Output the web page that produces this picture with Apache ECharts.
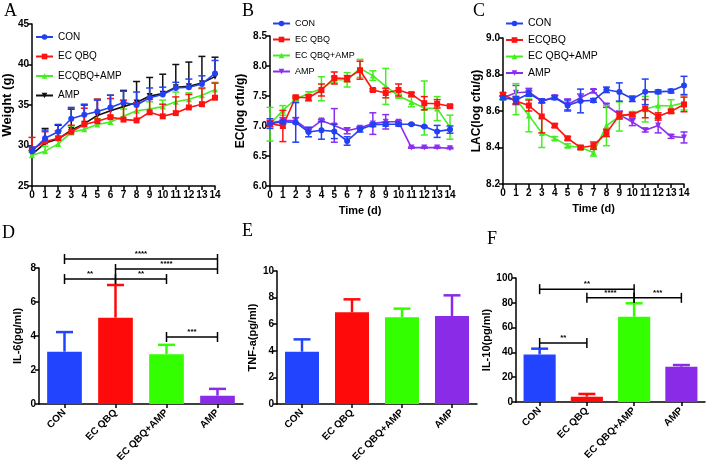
<!DOCTYPE html>
<html><head><meta charset="utf-8">
<script src="https://cdn.jsdelivr.net/npm/echarts@6/dist/echarts.min.js"></script>
<style>html,body{margin:0;padding:0;background:#fff}#c{width:707px;height:467px}</style>
</head><body><div id="c"></div><script>
// ---------- data ----------
const days = [0,1,2,3,4,5,6,7,8,9,10,11,12,13,14];
// A: body weight (g)
const aCon = [29.3,30.9,31.7,33.3,33.8,34.2,34.7,35.3,35.0,35.9,36.3,37.1,37.2,37.6,38.9];
const aConErr = [0.5,1.0,0.9,1.4,1.3,1.4,1.5,1.4,1.6,1.2,0.9,0.7,1.0,1.0,1.6];
const aEc = [29.5,30.5,30.9,31.7,32.6,33.0,33.5,33.2,33.1,34.1,33.6,34.0,34.7,35.1,35.9];
const aEcErr = [1.5,1.2,0.9,0.8,2.0,2.7,2.3,2.4,2.2,1.6,1.5,2.0,1.6,2.0,1.8];
const aMix = [28.8,29.3,30.2,31.6,32.0,32.6,32.9,33.6,34.3,34.5,34.8,35.4,35.7,36.2,36.9];
const aMixErr = [0.4,0.6,0.6,0.8,0.6,0.7,0.8,0.9,0.8,0.9,0.8,1.2,0.8,0.8,0.9];
const aAmp = [28.9,30.3,30.8,31.9,32.7,33.7,34.3,34.8,35.3,36.1,36.4,37.2,37.3,37.7,38.5];
const aAmpErr = [0.5,1.8,1.7,2.6,2.3,2.0,1.9,2.0,2.6,2.3,2.4,2.8,3.0,3.3,2.4];
// B: EC (log cfu/g)
const bCon = [7.04,7.07,7.06,6.90,6.93,6.91,6.75,6.94,7.02,7.03,7.03,7.03,6.99,6.91,6.94];
const bConErr = [0.08,0.03,0.33,0.08,0.15,0.12,0.07,0.04,0.03,0.03,0.03,0.01,0.01,0.1,0.06];
const bEc = [7.04,7.0,7.48,7.47,7.6,7.8,7.79,7.93,7.6,7.55,7.6,7.53,7.38,7.37,7.33];
const bEcErr = [0.05,0.26,0.02,0.05,0.1,0.1,0.05,0.15,0.02,0.08,0.1,0.03,0.11,0.07,0.02];
const bMix = [7.03,7.26,7.45,7.54,7.62,7.77,7.77,7.96,7.84,7.66,7.5,7.4,7.3,7.29,6.98];
const bMixErr = [0.28,0.08,0.03,0.03,0.2,0.05,0.12,0.15,0.08,0.3,0.03,0.08,0.45,0.2,0.2];
const bAmp = [7.05,7.09,7.09,6.93,7.09,7.01,6.92,6.97,7.04,7.07,7.07,6.64,6.64,6.64,6.63];
const bAmpErr = [0.02,0.05,0.05,0.02,0.02,0.28,0.05,0.02,0.18,0.12,0.02,0.01,0.01,0.01,0.01];
// C: LAC (log cfu/g)
const cCon = [8.673,8.66,8.695,8.655,8.673,8.63,8.655,8.658,8.716,8.704,8.667,8.705,8.705,8.709,8.74];
const cConErr = [0.01,0.02,0.015,0.01,0.01,0.03,0.065,0.01,0.015,0.05,0.015,0.07,0.01,0.01,0.05];
const cEc = [8.69,8.655,8.63,8.57,8.52,8.45,8.40,8.41,8.48,8.576,8.58,8.613,8.57,8.598,8.636];
const cEcErr = [0.01,0.02,0.03,0.09,0.01,0.01,0.01,0.02,0.02,0.02,0.01,0.05,0.02,0.01,0.04];
const cMix = [8.673,8.665,8.576,8.48,8.45,8.41,8.40,8.373,8.52,8.57,8.587,8.61,8.63,8.627,8.645];
const cMixErr = [0.01,0.085,0.09,0.08,0.01,0.01,0.01,0.02,0.11,0.08,0.01,0.07,0.07,0.035,0.04];
const cAmp = [8.673,8.70,8.704,8.655,8.676,8.636,8.673,8.709,8.63,8.58,8.54,8.495,8.52,8.46,8.455];
const cAmpErr = [0.01,0.04,0.02,0.01,0.01,0.03,0.02,0.01,0.01,0.02,0.02,0.01,0.04,0.01,0.03];
// D-F: cytokines
const groups = ['CON','EC QBQ','EC QBQ+AMP','AMP'];
const il6 = [3.08,5.08,2.93,0.49];
const il6Err = [1.15,1.92,0.55,0.40];
const tnf = [3.93,6.89,6.52,6.62];
const tnfErr = [0.93,0.98,0.65,1.55];
const il10 = [38.4,4.3,68.8,28.5];
const il10Err = [4.6,2.2,10.8,1.3];
// significance brackets: [from group, to group, level, stars]
const il6Sig = [[0,3,8.53,'****'],[1,3,7.94,'****'],[0,1,7.35,'**'],[1,2,7.35,'**'],[2,3,3.94,'***']];
const il10Sig = [[0,2,91,'**'],[1,2,84,'****'],[2,3,84,'***'],[0,1,47.6,'**']];

// ---------- styles ----------
const BLUE='#2340f2', RED='#ff1212', GREEN='#44ee22', PURPLE='#8a2ef0', BLACK='#111111';
const BAR_COLORS = ['#2244ff','#ff0a0a','#33ff00','#8a2be8'];
const SANS = "Arial,'Liberation Sans',sans-serif";
const INV_TRI = 'path://M0,0 L10,0 L5,9 Z';

function yAx(gi, min, max, interval, name, nameGap, fs, dec){
  return {type:'value', gridIndex:gi, min, max, interval, name, nameLocation:'middle', nameGap, nameRotate:90,
    nameTextStyle:{fontFamily:SANS, fontWeight:'bold', fontSize:fs, color:'#000'},
    axisLine:{show:true, lineStyle:{color:'#000', width:1.5}},
    axisTick:{show:true, length:4, lineStyle:{color:'#000', width:1.5}},
    axisLabel:{fontFamily:SANS, fontWeight:'bold', fontSize:10, color:'#000', margin:3,
      formatter: v => dec ? v.toFixed(dec) : String(v)},
    splitLine:{show:false}};
}
function xLine(gi, name){
  return {type:'value', gridIndex:gi, min:0, max:14, interval:1, name, nameLocation:'middle', nameGap:19,
    nameTextStyle:{fontFamily:SANS, fontWeight:'bold', fontSize:11, color:'#000'},
    axisLine:{show:true, onZero:false, lineStyle:{color:'#000', width:1.5}},
    axisTick:{show:true, length:4, lineStyle:{color:'#000', width:1.5}},
    axisLabel:{fontFamily:SANS, fontWeight:'bold', fontSize:10, color:'#000', margin:4},
    splitLine:{show:false}};
}
function xBar(gi){
  return {type:'category', gridIndex:gi, data:groups,
    axisLine:{show:true, lineStyle:{color:'#000', width:1.5}},
    axisTick:{show:true, alignWithLabel:true, length:4, lineStyle:{color:'#000', width:1.5}},
    axisLabel:{fontFamily:SANS, fontWeight:'bold', fontSize:10, color:'#000', rotate:45, margin:7, interval:0}};
}
function lineS(panel, name, gi, vals, color, symbol, z){
  return {type:'line', name: panel+'|'+name, xAxisIndex:gi, yAxisIndex:gi,
    data: days.map((d,i)=>[d, vals[i]]), symbol, symbolSize:6, z,
    lineStyle:{color, width:1.6}, itemStyle:{color}};
}
function errS(gi, xs, vals, errs, color, both, cap, width, z){
  return {type:'custom', xAxisIndex:gi, yAxisIndex:gi, silent:true, z, clip:false,
    data: xs.map((x,i)=>[x, vals[i], errs[i]]), encode:{x:0, y:1},
    renderItem(params, api){
      const x = api.value(0), y = api.value(1), e = api.value(2);
      const top = api.coord([x, y+e]);
      const bot = api.coord([x, both ? y-e : y]);
      const h = cap/2, st = {stroke:color, lineWidth:width};
      const ch = [
        {type:'line', shape:{x1:top[0], y1:top[1], x2:bot[0], y2:bot[1]}, style:st},
        {type:'line', shape:{x1:top[0]-h, y1:top[1], x2:top[0]+h, y2:top[1]}, style:st}
      ];
      if (both) ch.push({type:'line', shape:{x1:bot[0]-h, y1:bot[1], x2:bot[0]+h, y2:bot[1]}, style:st});
      return {type:'group', children:ch};
    }};
}
function sigS(gi, sig){
  return {type:'custom', xAxisIndex:gi, yAxisIndex:gi, silent:true, z:6, clip:false,
    data: sig.map(s=>[s[0], s[2], s[1]]), encode:{x:0, y:1},
    renderItem(params, api){
      const s = sig[params.dataIndex];
      const p1 = api.coord([s[0], s[2]]), p2 = api.coord([s[1], s[2]]);
      const st = {stroke:'#000', lineWidth:1.5};
      return {type:'group', children:[
        {type:'line', shape:{x1:p1[0], y1:p1[1], x2:p2[0], y2:p2[1]}, style:st},
        {type:'line', shape:{x1:p1[0], y1:p1[1]-5, x2:p1[0], y2:p1[1]+5}, style:st},
        {type:'line', shape:{x1:p2[0], y1:p2[1]-5, x2:p2[0], y2:p2[1]+5}, style:st},
        {type:'text', style:{text:s[3], x:(p1[0]+p2[0])/2, y:p1[1]-1, align:'center', verticalAlign:'bottom',
          font:'bold 8px Arial, sans-serif', fill:'#000'}}
      ]};
    }};
}
function barS(gi, vals){
  return {type:'bar', xAxisIndex:gi, yAxisIndex:gi, barWidth:'68%', z:2,
    data: vals.map((v,i)=>({value:v, itemStyle:{color:BAR_COLORS[i]}}))};
}
function legendFor(panel, names, left, top, gap, fs){
  return {left, top, orient:'vertical', padding:0, itemGap:gap, itemWidth:17, itemHeight:7,
    data: names.map(n=>panel+'|'+n), formatter: n => n.split('|')[1],
    textStyle:{fontFamily:SANS, fontSize:fs, color:'#000'}};
}

const chart = echarts.init(document.getElementById('c'));
const option = {
  animation:false,
  backgroundColor:'#fff',
  grid:[
    {left:32, top:24, width:183, height:162},
    {left:270, top:36, width:180, height:150},
    {left:503, top:38, width:181, height:146},
    {left:39, top:268, width:204, height:136},
    {left:277, top:271, width:200, height:133},
    {left:516, top:278, width:189, height:124}
  ],
  xAxis:[ xLine(0,''), xLine(1,'Time (d)'), xLine(2,'Time (d)'), xBar(3), xBar(4), xBar(5) ],
  yAxis:[
    yAx(0,25,45,5,'Weight (g)',16,13,0),
    yAx(1,6,8.5,0.5,'EC(log cfu/g)',23,12,1),
    yAx(2,8.2,9.0,0.2,'LAC(log cfu/g)',18,12,1),
    yAx(3,0,8,2,'IL-6(pg/ml)',16,11,0),
    yAx(4,0,10,2,'TNF-a(pg/ml)',19,11,0),
    yAx(5,0,100,20,'IL-10(pg/ml)',22,11,0)
  ],
  legend:[
    legendFor('A',['CON','EC QBQ','ECQBQ+AMP','AMP'],35,32,9.5,10),
    legendFor('B',['CON','EC QBQ','EC QBQ+AMP','AMP'],272,19,7,9),
    legendFor('C',['CON','ECQBQ','EC QBQ+AMP','AMP'],505,18,5.5,10.5)
  ],
  graphic:[
    {type:'text', x:4, y:2, style:{text:'A', font:'18px "Liberation Serif", serif', fill:'#000'}},
    {type:'text', x:242, y:2, style:{text:'B', font:'18px "Liberation Serif", serif', fill:'#000'}},
    {type:'text', x:473, y:2, style:{text:'C', font:'18px "Liberation Serif", serif', fill:'#000'}},
    {type:'text', x:2, y:224, style:{text:'D', font:'18px "Liberation Serif", serif', fill:'#000'}},
    {type:'text', x:242, y:222, style:{text:'E', font:'18px "Liberation Serif", serif', fill:'#000'}},
    {type:'text', x:487, y:230, style:{text:'F', font:'18px "Liberation Serif", serif', fill:'#000'}}
  ],
  series:[
    // A
    lineS('A','AMP',0,aAmp,BLACK,INV_TRI,2), errS(0,days,aAmp,aAmpErr,BLACK,false,7,1.5,2),
    lineS('A','ECQBQ+AMP',0,aMix,GREEN,'triangle',3), errS(0,days,aMix,aMixErr,GREEN,false,7,1.5,3),
    lineS('A','EC QBQ',0,aEc,RED,'rect',4), errS(0,days,aEc,aEcErr,RED,false,7,1.5,4),
    lineS('A','CON',0,aCon,BLUE,'circle',5), errS(0,days,aCon,aConErr,BLUE,false,7,1.5,5),
    // B
    lineS('B','AMP',1,bAmp,PURPLE,INV_TRI,2), errS(1,days,bAmp,bAmpErr,PURPLE,true,7,1.5,2),
    lineS('B','EC QBQ+AMP',1,bMix,GREEN,'triangle',3), errS(1,days,bMix,bMixErr,GREEN,true,7,1.5,3),
    lineS('B','EC QBQ',1,bEc,RED,'rect',4), errS(1,days,bEc,bEcErr,RED,true,7,1.5,4),
    lineS('B','CON',1,bCon,BLUE,'circle',5), errS(1,days,bCon,bConErr,BLUE,true,7,1.5,5),
    // C
    lineS('C','AMP',2,cAmp,PURPLE,INV_TRI,2), errS(2,days,cAmp,cAmpErr,PURPLE,true,7,1.5,2),
    lineS('C','EC QBQ+AMP',2,cMix,GREEN,'triangle',3), errS(2,days,cMix,cMixErr,GREEN,true,7,1.5,3),
    lineS('C','ECQBQ',2,cEc,RED,'rect',4), errS(2,days,cEc,cEcErr,RED,true,7,1.5,4),
    lineS('C','CON',2,cCon,BLUE,'circle',5), errS(2,days,cCon,cConErr,BLUE,true,7,1.5,5),
    // D
    barS(3,il6), sigS(3,il6Sig),
    // E
    barS(4,tnf),
    // F
    barS(5,il10), sigS(5,il10Sig)
  ]
};
// bar error bars (upper only, bar colour)
[[3,il6,il6Err],[4,tnf,tnfErr],[5,il10,il10Err]].forEach(([gi,v,e])=>{
  v.forEach((val,i)=>{
    option.series.push(errS(gi,[i],[val],[e[i]],BAR_COLORS[i],false,17,2.5,1));
  });
});
chart.setOption(option);
</script></body></html>
